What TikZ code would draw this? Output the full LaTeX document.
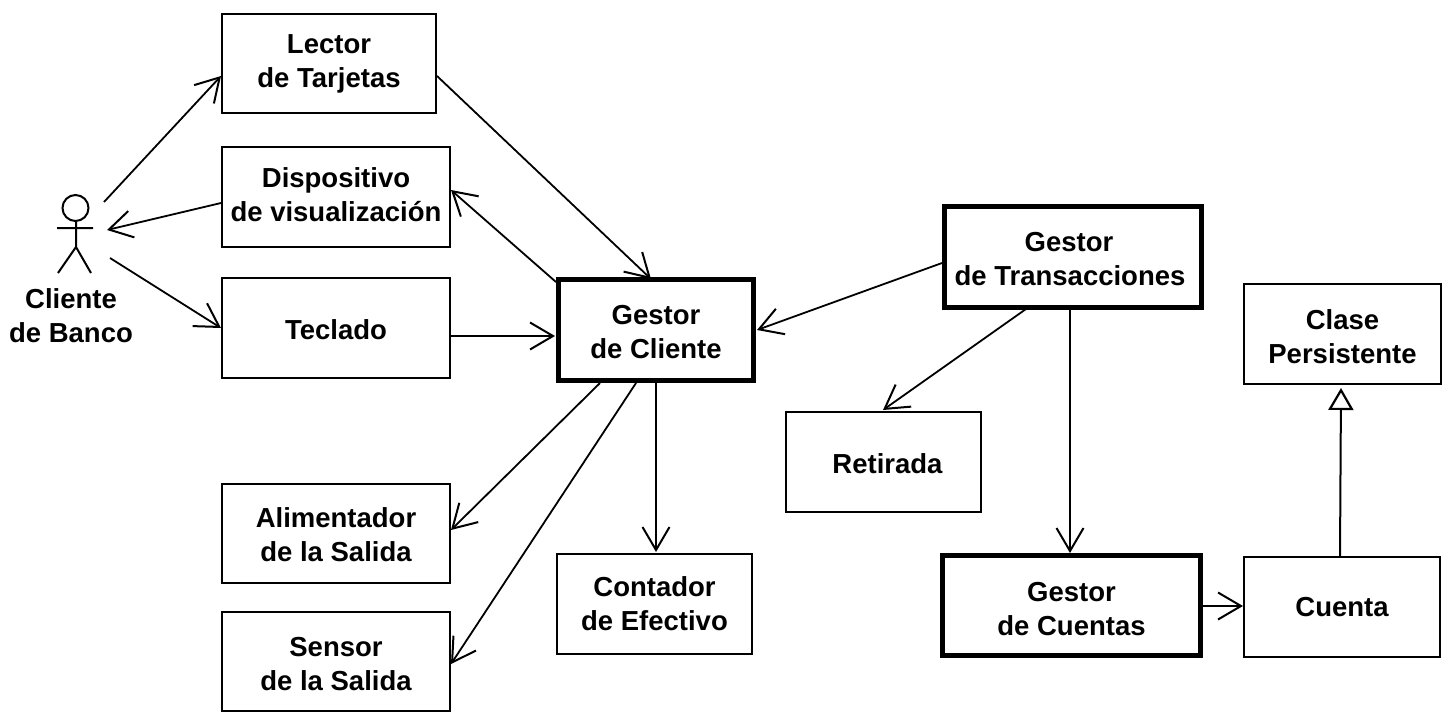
\documentclass[tikz,border=0pt]{standalone}
\usepackage{fontspec}
\setmainfont{Liberation Sans}
\usetikzlibrary{arrows.meta}
\tikzset{
 box/.style={draw=black,line width=2pt,align=center,font=\fontsize{27.5}{34}\selectfont\bfseries,inner sep=0pt,anchor=north west},
 thick box/.style={box,line width=5pt},
 conn/.style={line width=1.8pt,-{Straight Barb[length=23pt,width=27pt,line width=2pt]}},
 inh/.style={line width=2pt,-{Triangle[open,fill=white,length=22pt,width=25pt,line width=2.2pt]}},
 lbl/.style={align=center,font=\fontsize{27.5}{34}\selectfont\bfseries,inner sep=0pt}
}
\newcommand{\dn}[1]{\rule{0pt}{\dimexpr20pt+#1pt*2\relax}}
\begin{document}
\begin{tikzpicture}[x=1pt,y=-1pt]
\useasboundingbox[fill=white] (0,0) rectangle (1456,723);
\node[box,minimum width=214pt,minimum height=99pt] (lector) at (221,13) {Lector\\de Tarjetas};
\node[box,minimum width=228pt,minimum height=100pt] (disp) at (221,146) {Dispositivo\\de visualización\rule[-4pt]{0pt}{4pt}};
\node[box,minimum width=228pt,minimum height=100pt] (tecl) at (221,277) {\dn{2}Teclado};
\node[thick box,minimum width=195pt,minimum height=101pt] (gc) at (556,277) {\dn{2}Gestor\\de Cliente};
\node[box,minimum width=228pt,minimum height=99pt] (alim) at (221,483) {\dn{1.5}Alimentador\\de la Salida};
\node[box,minimum width=228pt,minimum height=99pt] (sens) at (221,611) {\dn{2}Sensor\\de la Salida};
\node[box,minimum width=195pt,minimum height=100pt] (cont) at (556,553) {Contador\\de Efectivo};
\node[thick box,minimum width=257pt,minimum height=101pt] (gt) at (942,204) {\hspace*{-8pt}\dn{2}Gestor\\\hspace*{-6pt}de Transacciones};
\node[box,minimum width=195pt,minimum height=100pt] (ret) at (785,411) {\hspace*{8pt}\dn{2}Retirada};
\node[thick box,minimum width=258pt,minimum height=100pt] (gcu) at (940,553) {\dn{3}Gestor\\de Cuentas};
\node[box,minimum width=196pt,minimum height=100pt] (cta) at (1243,556) {Cuenta};
\node[box,minimum width=197pt,minimum height=100pt] (cp) at (1243,283) {\dn{3}Clase\\Persistente};
\coordinate (a1) at (104,202);\coordinate (a2) at (107,230);\coordinate (a3) at (110,258);
\node[lbl] (cb) at (71,316) {Cliente\\de Banco};
\draw[line width=2pt] (75.5,208) circle (13);
\draw[line width=2pt] (76,221)--(76,247) (57,228)--(93,228) (76,247)--(58,273) (76,247)--(91,273);
\draw[conn] (a1) -- (221,76);
\draw[conn] (221,203) -- (a2);
\draw[conn] (a3) -- (221,328);
\coordinate (l1) at (437,76);\coordinate (l2) at (651,279);
\draw[conn] (l1) -- (l2);
\coordinate (g1) at (556,282);\coordinate (d1) at (451,190);
\draw[conn] (g1) -- (d1);
\coordinate (t1) at (451,336);\coordinate (g2) at (555,336);
\draw[conn] (t1) -- (g2);
\coordinate (g3) at (600,383);\coordinate (al1) at (451,530);
\draw[conn] (g3) -- (al1);
\coordinate (g4) at (636,383);\coordinate (se1) at (451,664);
\draw[conn] (g4) -- (se1);
\coordinate (g5) at (656,383);\coordinate (co1) at (656,552);
\draw[conn] (g5) -- (co1);
\coordinate (t2) at (942,263);\coordinate (g6) at (757,330);
\draw[conn] (t2) -- (g6);
\coordinate (t3) at (1026,309);\coordinate (r1) at (883,410);
\draw[conn] (t3) -- (r1);
\coordinate (t4) at (1070,309);\coordinate (gc2) at (1070,553);
\draw[conn] (t4) -- (gc2);
\coordinate (gc3) at (1203,606);\coordinate (c1) at (1243,606);
\draw[conn] (gc3) -- (c1);
\coordinate (c2) at (1340,556);\coordinate (p1) at (1341,388);
\draw[inh] (c2) -- (p1);
\end{tikzpicture}
\end{document}
